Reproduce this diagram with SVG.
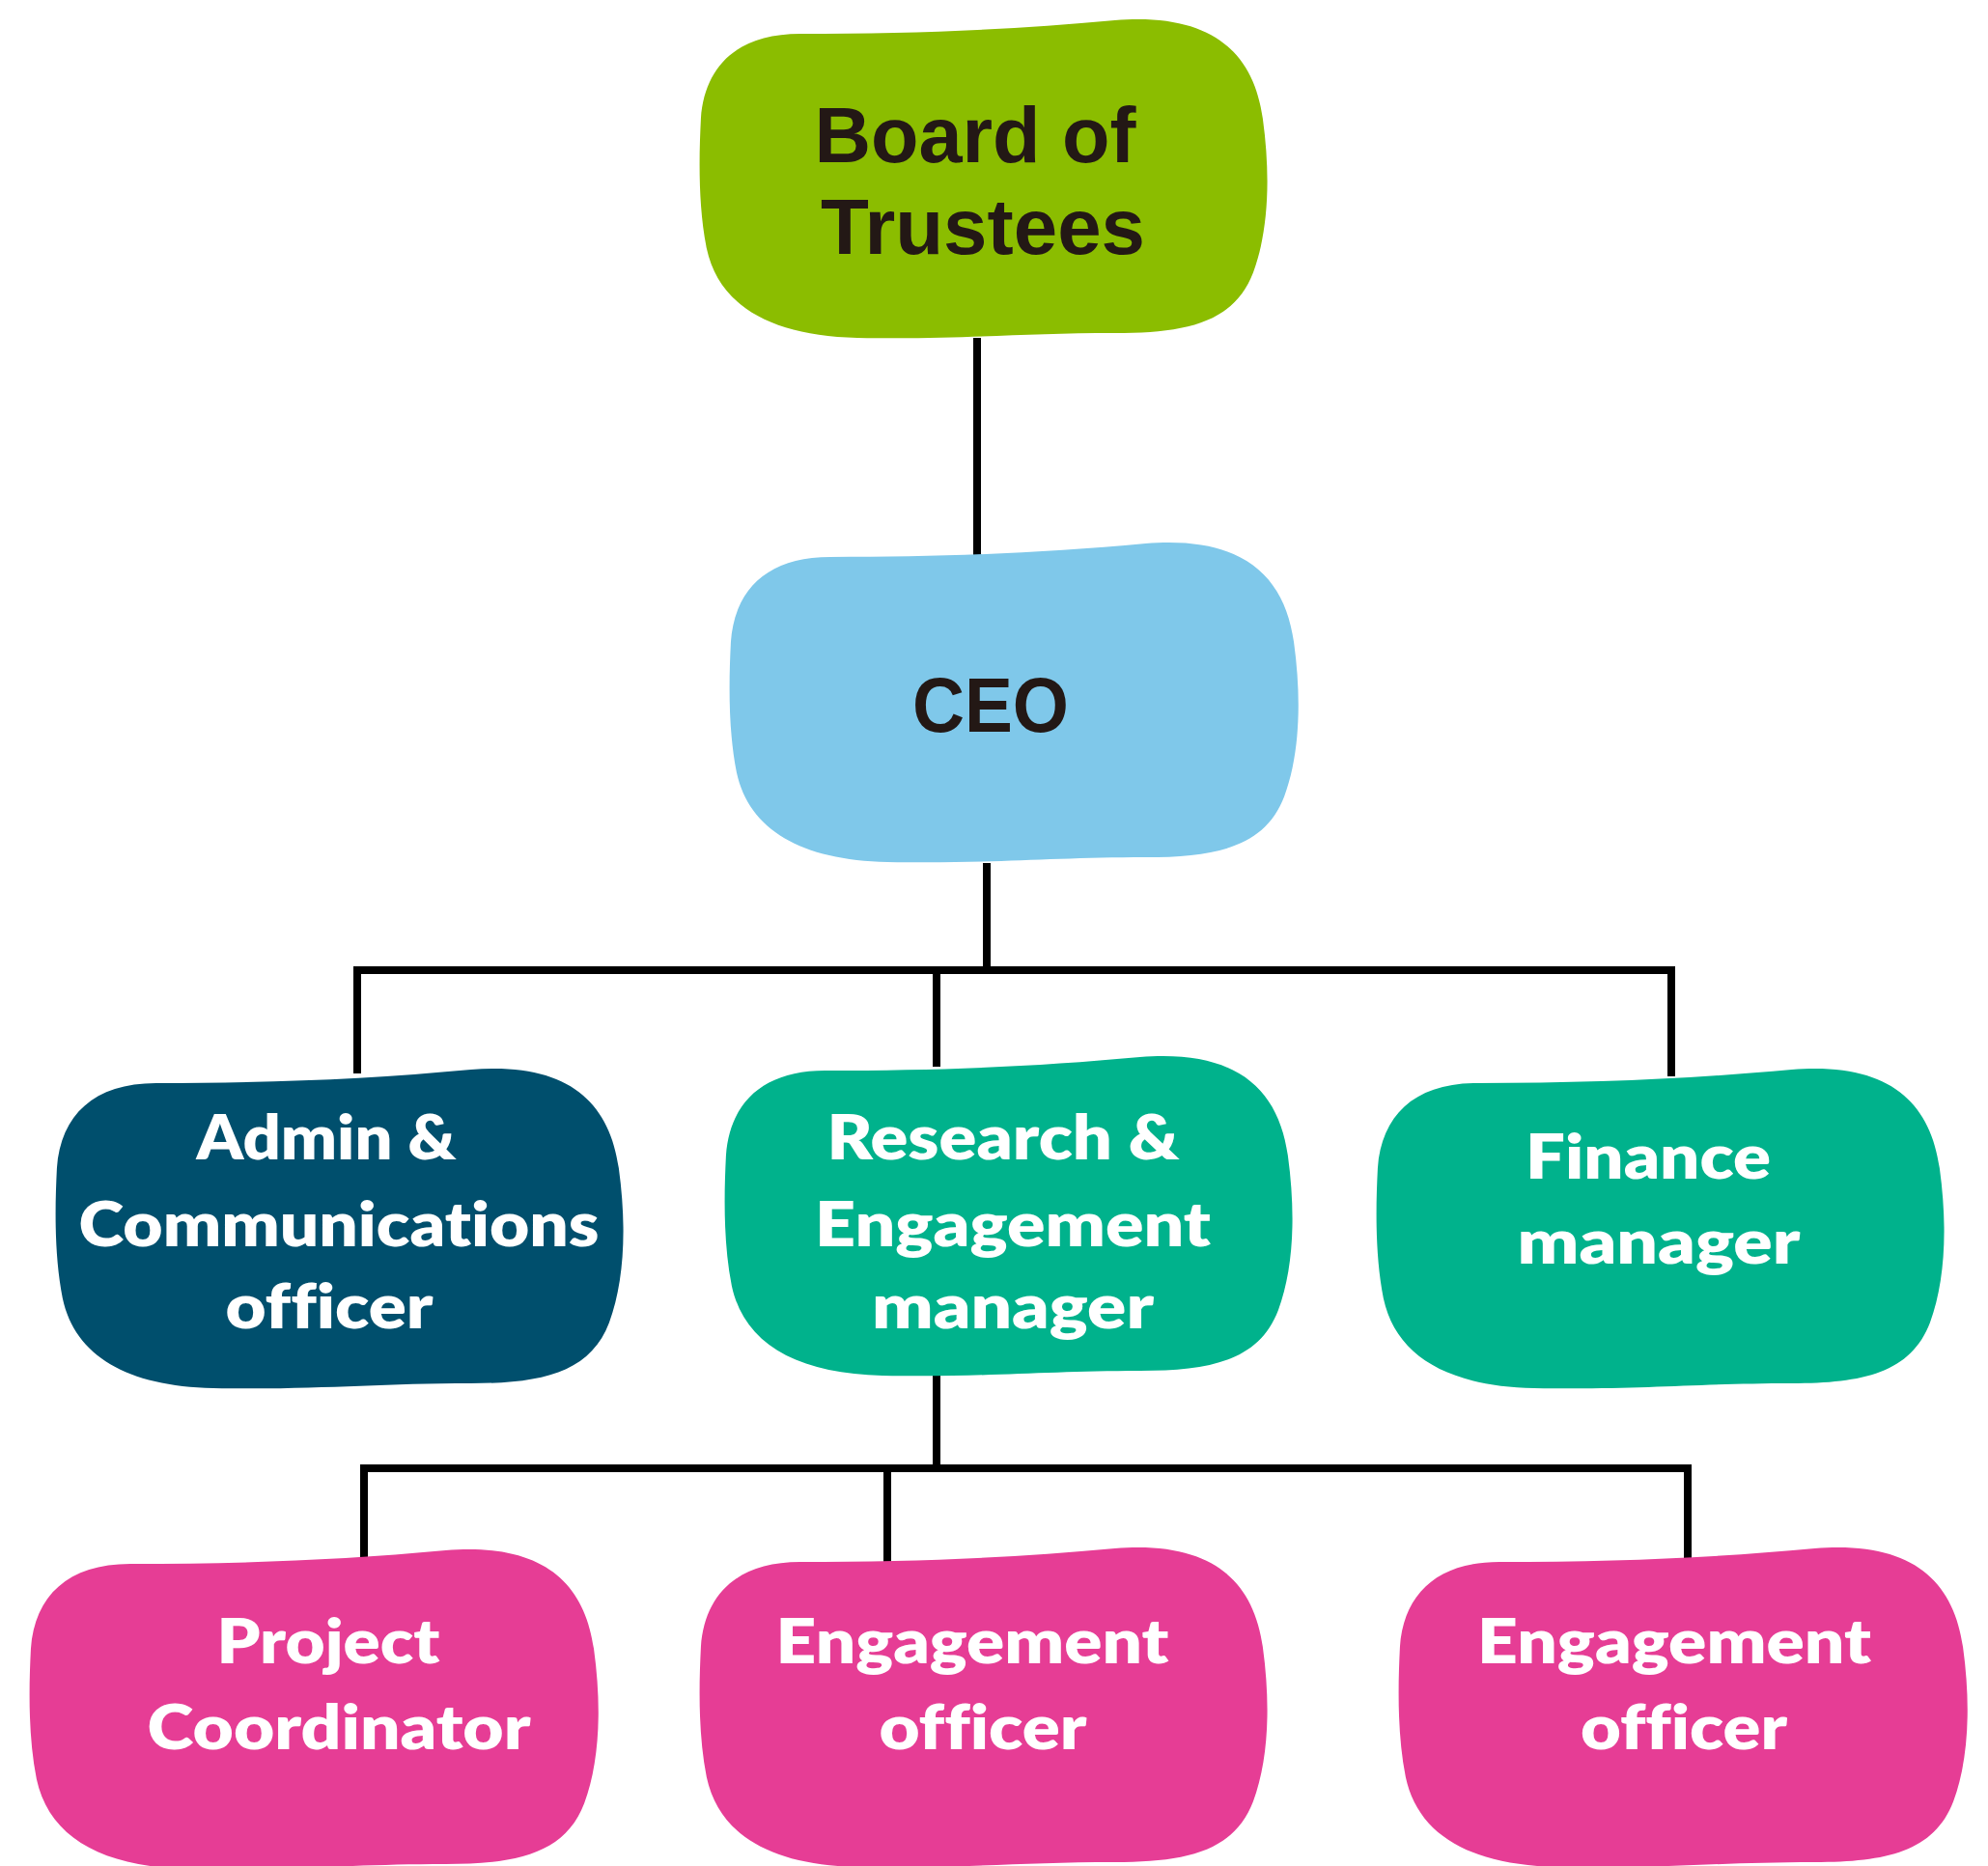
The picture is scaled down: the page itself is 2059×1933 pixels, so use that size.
<svg xmlns="http://www.w3.org/2000/svg" width="2059" height="1933" viewBox="0 0 2059 1933">
  <defs>
    <path id="blob" d="M 110,22 C 230,22 330,18 440,8 C 540,0 585,40 595,110 C 604,175 600,230 585,270 C 565,322 515,333 440,333 C 340,333 280,340 170,338 C 80,336 25,305 12,245 C 3,200 4,150 6,110 C 10,55 45,22 110,22 Z"/>
  </defs>
  <style>
    .dark { font-family: "Liberation Sans", Arial, sans-serif; font-weight: 700; fill: #231815; text-anchor: middle; }
    .light { font-family: "Lato", "Liberation Sans", sans-serif; font-weight: 800; fill: #ffffff; text-anchor: middle; font-size: 64px; font-variant-ligatures: none; }
    .conn { stroke: #000000; stroke-width: 8; fill: none; stroke-linecap: butt; }
  </style>
  <rect width="2059" height="1933" fill="#ffffff"/>

  <g id="connectors">
    <line class="conn" x1="1012" y1="350" x2="1012" y2="580"/>
    <line class="conn" x1="1022" y1="894" x2="1022" y2="1005"/>
    <polyline class="conn" points="370,1112 370,1005 1731,1005 1731,1115"/>
    <line class="conn" x1="970" y1="1005" x2="970" y2="1105"/>
    <line class="conn" x1="970" y1="1416" x2="970" y2="1521"/>
    <polyline class="conn" points="377,1625 377,1521 1748,1521 1748,1625"/>
    <line class="conn" x1="919" y1="1521" x2="919" y2="1625"/>
  </g>

  <g id="node-board">
    <use href="#blob" fill="#8BBD00" transform="translate(720,13) scale(0.988,0.997)"/>
    <text class="dark" x="1010" y="168" font-size="82" textLength="333" lengthAdjust="spacingAndGlyphs">Board of</text>
    <text class="dark" x="1018" y="263" font-size="82" textLength="336" lengthAdjust="spacingAndGlyphs">Trustees</text>
  </g>

  <g id="node-ceo">
    <use href="#blob" fill="#7FC8EA" transform="translate(751,555) scale(0.99,1.0)"/>
    <text class="dark" x="1026" y="758" font-size="80" textLength="162" lengthAdjust="spacingAndGlyphs">CEO</text>
  </g>

  <g id="node-admin">
    <use href="#blob" fill="#004F6D" transform="translate(53,1100) scale(0.988,1.0)"/>
    <text class="light" x="338" y="1201" textLength="269" lengthAdjust="spacingAndGlyphs">Admin &amp;</text>
    <text class="light" x="351" y="1291" textLength="539" lengthAdjust="spacingAndGlyphs">Communications</text>
    <text class="light" x="341" y="1376" textLength="215" lengthAdjust="spacingAndGlyphs">officer</text>
  </g>

  <g id="node-research">
    <use href="#blob" fill="#00B28C" transform="translate(746,1087) scale(0.988,1.0)"/>
    <text class="light" x="1039" y="1201" textLength="365" lengthAdjust="spacingAndGlyphs">Research &amp;</text>
    <text class="light" x="1049" y="1291" textLength="410" lengthAdjust="spacingAndGlyphs">Engagement</text>
    <text class="light" x="1049" y="1376" textLength="292" lengthAdjust="spacingAndGlyphs">manager</text>
  </g>

  <g id="node-finance">
    <use href="#blob" fill="#00B28C" transform="translate(1421,1100) scale(0.988,1.0)"/>
    <text class="light" x="1707" y="1221" textLength="254" lengthAdjust="spacingAndGlyphs">Finance</text>
    <text class="light" x="1718" y="1309" textLength="293" lengthAdjust="spacingAndGlyphs">manager</text>
  </g>

  <g id="node-project">
    <use href="#blob" fill="#E63D95" transform="translate(26,1598) scale(0.99,1.0)"/>
    <text class="light" x="340" y="1723" textLength="231" lengthAdjust="spacingAndGlyphs">Project</text>
    <text class="light" x="351" y="1812" textLength="397" lengthAdjust="spacingAndGlyphs">Coordinator</text>
  </g>

  <g id="node-engagement-1">
    <use href="#blob" fill="#E63D95" transform="translate(720,1596) scale(0.988,1.0)"/>
    <text class="light" x="1007" y="1723" textLength="407" lengthAdjust="spacingAndGlyphs">Engagement</text>
    <text class="light" x="1018" y="1812" textLength="215" lengthAdjust="spacingAndGlyphs">officer</text>
  </g>

  <g id="node-engagement-2">
    <use href="#blob" fill="#E63D95" transform="translate(1444,1596) scale(0.99,1.0)"/>
    <text class="light" x="1734" y="1723" textLength="408" lengthAdjust="spacingAndGlyphs">Engagement</text>
    <text class="light" x="1744" y="1812" textLength="214" lengthAdjust="spacingAndGlyphs">officer</text>
  </g>
</svg>
